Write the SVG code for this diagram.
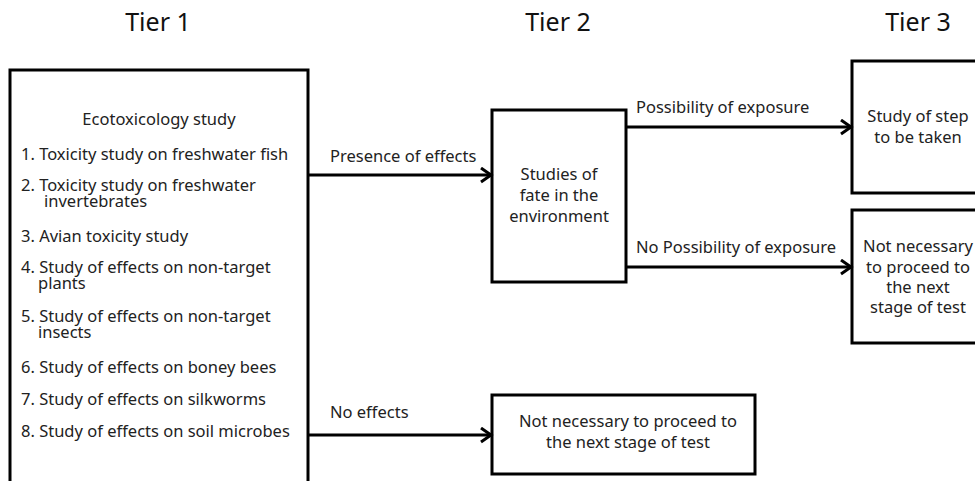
<svg xmlns="http://www.w3.org/2000/svg" width="975" height="481" viewBox="0 0 975 481">
<defs>
<marker id="arr" markerUnits="userSpaceOnUse" markerWidth="16" markerHeight="18" refX="13" refY="8" orient="auto">
<path d="M3,1 L13,8 L3,15" fill="none" stroke="#000" stroke-width="3"/>
</marker>
<style>
.box{fill:#fff;stroke:#000;stroke-width:3}
.t{font-family:"Noto Sans","Open Sans",sans-serif;font-size:16.5px;fill:#222}
.c{text-anchor:middle}
.h{font-family:"Noto Sans","Open Sans",sans-serif;font-size:25px;fill:#111;text-anchor:middle}
.ln{fill:none;stroke:#000;stroke-width:3}
</style>
</defs>
<rect width="975" height="481" fill="#fff"/>
<g id="titles">
<text class="h" x="158" y="31">Tier 1</text>
<text class="h" x="558" y="31">Tier 2</text>
<text class="h" x="918" y="31">Tier 3</text>
</g>
<g id="tier1">
<rect class="box" x="10" y="70" width="298" height="420"/>
<text class="t c" x="159" y="125">Ecotoxicology study</text>
<text class="t" x="21" y="160">1. Toxicity study on freshwater fish</text>
<text class="t"><tspan x="21" y="191">2. Toxicity study on freshwater</tspan><tspan x="44" y="207">invertebrates</tspan></text>
<text class="t" x="21" y="242">3. Avian toxicity study</text>
<text class="t"><tspan x="21" y="273">4. Study of effects on non-target</tspan><tspan x="38" y="289">plants</tspan></text>
<text class="t"><tspan x="21" y="322">5. Study of effects on non-target</tspan><tspan x="38" y="338">insects</tspan></text>
<text class="t" x="21" y="373">6. Study of effects on boney bees</text>
<text class="t" x="21" y="405">7. Study of effects on silkworms</text>
<text class="t" x="21" y="437">8. Study of effects on soil microbes</text>
</g>
<g id="fate">
<rect class="box" x="492" y="110" width="134" height="172"/>
<text class="t c"><tspan x="559" y="180">Studies of</tspan><tspan x="559" y="201">fate in  the</tspan><tspan x="559" y="222">environment</tspan></text>
</g>
<g id="step">
<rect class="box" x="852" y="61" width="140" height="132"/>
<text class="t c"><tspan x="918" y="122">Study of step</tspan><tspan x="918" y="143">to be taken</tspan></text>
</g>
<g id="notnec1">
<rect class="box" x="852" y="210" width="140" height="133"/>
<text class="t c"><tspan x="918" y="252">Not necessary</tspan><tspan x="918" y="273">to proceed to</tspan><tspan x="918" y="293">the next</tspan><tspan x="918" y="313">stage of test</tspan></text>
</g>
<g id="notnec2">
<rect class="box" x="492" y="395" width="263" height="79"/>
<text class="t c"><tspan x="628" y="427">Not necessary to proceed to</tspan><tspan x="628" y="448">the next stage of test</tspan></text>
</g>
<g id="connectors">
<line class="ln" x1="308" y1="175" x2="491" y2="175" marker-end="url(#arr)"/>
<line class="ln" x1="308" y1="435" x2="491" y2="435" marker-end="url(#arr)"/>
<line class="ln" x1="626" y1="127" x2="851" y2="127" marker-end="url(#arr)"/>
<line class="ln" x1="626" y1="267" x2="851" y2="267" marker-end="url(#arr)"/>
<text class="t" x="330" y="162">Presence of effects</text>
<text class="t" x="330" y="418">No effects</text>
<text class="t" x="636" y="113">Possibility of exposure</text>
<text class="t" x="636" y="253">No Possibility of exposure</text>
</g>
</svg>
